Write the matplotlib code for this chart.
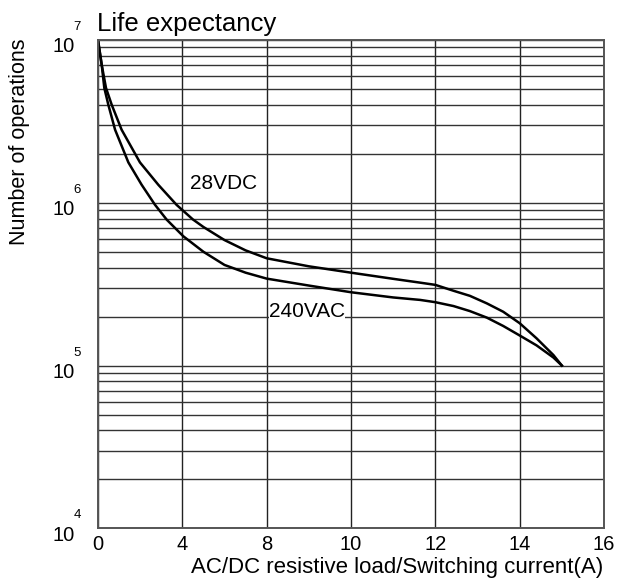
import numpy as np
import matplotlib
matplotlib.use("Agg")
import matplotlib.pyplot as plt
from matplotlib.transforms import ScaledTranslation

plt.rcParams['font.family'] = ['Liberation Sans', 'DejaVu Sans']

# switching current (A) and number of operations
dc_current = [0, 0.175, 0.38, 0.65, 1.12, 1.99, 2.86, 3.73, 4.5, 5, 6, 7, 8, 9, 10, 11,
              11.64, 12, 12.43, 12.82, 13.22, 13.61, 14, 14.4, 14.8, 15]
dc_ops = [1e7, 7.05e6, 5.07e6, 4.0e6, 2.81e6, 1.77e6, 1.29e6, 9.7e5, 7.9e5, 7.1e5, 5.9e5,
          5.1e5, 4.56e5, 4.07e5, 3.72e5, 3.41e5, 3.23e5, 3.13e5, 2.88e5, 2.68e5, 2.41e5,
          2.14e5, 1.82e5, 1.47e5, 1.16e5, 1.0e5]

ac_current = [0, 0.175, 0.30, 0.49, 0.81, 1.44, 2.07, 2.70, 3.26, 4.05, 5, 6, 7, 8, 9, 10, 11,
              11.64, 12, 12.43, 12.82, 13.22, 13.61, 14, 14.4, 14.8, 15]
ac_ops = [1e7, 7.05e6, 5.07e6, 4.0e6, 2.81e6, 1.77e6, 1.29e6, 9.73e5, 7.87e5, 6.22e5, 5.0e5,
          4.15e5, 3.72e5, 3.42e5, 3.1e5, 2.82e5, 2.62e5, 2.53e5, 2.45e5, 2.32e5, 2.16e5,
          1.97e5, 1.75e5, 1.53e5, 1.33e5, 1.12e5, 1.0e5]

x_ticks = [0, 4, 8, 10, 12, 14, 16]
y_exponents = [4, 5, 6, 7]

# the datasheet grid is evenly spaced even though the labels are not
slots = np.arange(len(x_ticks))
def fwd(v):
    return np.interp(v, x_ticks, slots)
def inv(v):
    return np.interp(v, slots, x_ticks)

fig = plt.figure(figsize=(6.18, 5.86), dpi=100)
ax = fig.add_axes([98/618, 1-528.3/586, 506/618, 488.3/586])

ax.set_xscale('function', functions=(fwd, inv))
ax.set_yscale('log')
ax.set_xlim(0, 16)
ax.set_ylim(1e4, 1e7)
ax.set_xticks(x_ticks)
ax.set_xticklabels([str(t) for t in x_ticks])
ax.set_yticks([10.0**e for e in y_exponents])
ax.set_yticklabels(['10'] * len(y_exponents))
ax.yaxis.set_minor_locator(matplotlib.ticker.LogLocator(base=10, subs=np.arange(2, 10)))
ax.yaxis.set_minor_formatter(matplotlib.ticker.NullFormatter())

ax.grid(True, which='major', axis='x', color='#222222', lw=1.0)
ax.grid(True, which='both', axis='y', color='#333333', lw=1.0)
ax.tick_params(which='both', length=0)
ax.tick_params(axis='x', labelsize=14.5, pad=5)
ax.tick_params(axis='y', labelsize=14.5, pad=17)
shift = ScaledTranslation(0, -5/100, fig.dpi_scale_trans)
for lab in ax.get_yticklabels():
    lab.set_transform(lab.get_transform() + shift)
# small exponent above each "10"
for e in y_exponents:
    ax.annotate(str(e), xy=(0, 10.0**e), xycoords=('axes fraction', 'data'),
                xytext=(-21, 13), textcoords='offset pixels', fontsize=9.5,
                ha='center', va='center')

for s in ax.spines.values():
    s.set_color('#555555')
    s.set_linewidth(1.4)

ax.plot(dc_current, dc_ops, color='black', lw=1.8)
ax.plot(ac_current, ac_ops, color='black', lw=1.8)

ax.text(4.36, 1.32e6, '28VDC', fontsize=15, ha='left', va='center')
ax.text(8.05, 2.16e5, '240VAC', fontsize=15, ha='left', va='center',
        bbox=dict(facecolor='white', edgecolor='none', pad=0))

fig.text(97/618, 1-23.5/586, 'Life expectancy', fontsize=18.5, ha='left', va='center')
fig.text(20/618, 1-141.5/586, 'Number of operations', fontsize=15.5, rotation=90,
         ha='center', va='center')
fig.text(603/618, 1-567.5/586, 'AC/DC resistive load/Switching current(A)', fontsize=16,
         ha='right', va='center')

fig.savefig('out.png', dpi=100)
